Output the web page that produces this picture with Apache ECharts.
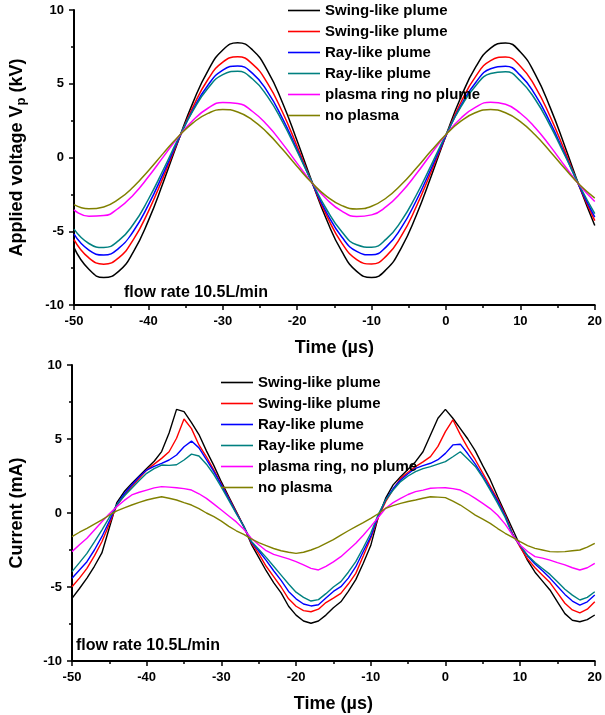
<!DOCTYPE html>
<html>
<head>
<meta charset="utf-8">
<script src="https://cdn.jsdelivr.net/npm/echarts@6/dist/echarts.min.js"></script>
<style>
html,body{margin:0;padding:0;background:#fff;}
#chart{width:605px;height:715px;}
</style>
</head>
<body>
<div id="chart"></div>
<script>
// ---------- data ----------
var legendNamesTop = ['Swing-like plume','Swing-like plume','Ray-like plume','Ray-like plume','plasma ring no plume','no plasma'];
var legendNamesBottom = ['Swing-like plume','Swing-like plume','Ray-like plume','Ray-like plume','plasma ring, no plume','no plasma'];
var flowLabel = 'flow rate 10.5L/min';

// top panel: applied voltage (kV), time step 2 µs
var timeV = [-50,-48,-46,-44,-42,-40,-38,-36,-34,-32,-30,-28,-26,-24,-22,-20,-18,-16,-14,-12,-10,-8,-6,-4,-2,0,2,4,6,8,10,12,14,16,18,20];
var vSwing1 = [-6.11,-7.58,-8.14,-7.72,-6.38,-4.28,-1.68,1.11,3.74,5.88,7.29,7.78,7.29,5.89,3.75,1.12,-1.66,-4.27,-6.37,-7.72,-8.14,-7.58,-6.12,-3.93,-1.29,1.50,4.08,6.14,7.42,7.77,7.15,5.63,3.40,0.73,-2.05,-4.61];
var vSwing2 = [-5.57,-6.81,-7.23,-6.80,-5.55,-3.65,-1.33,1.14,3.43,5.29,6.47,6.83,6.33,5.04,3.10,0.75,-1.71,-3.98,-5.80,-6.92,-7.22,-6.67,-5.32,-3.34,-0.98,1.48,3.73,5.50,6.57,6.81,6.19,4.79,2.78,0.40,-2.05,-4.28];
var vRay1 = [-5.20,-6.28,-6.61,-6.16,-4.98,-3.21,-1.08,1.17,3.24,4.90,5.93,6.21,5.70,4.47,2.67,0.52,-1.72,-3.78,-5.39,-6.37,-6.60,-6.04,-4.76,-2.93,-0.76,1.48,3.51,5.09,6.02,6.18,5.57,4.24,2.38,0.20,-2.03,-4.04];
var vRay2 = [-4.86,-5.83,-6.10,-5.64,-4.51,-2.83,-0.83,1.26,3.18,4.69,5.62,5.84,5.32,4.14,2.44,0.42,-1.67,-3.56,-5.04,-5.92,-6.08,-5.52,-4.30,-2.56,-0.53,1.55,3.43,4.87,5.69,5.81,5.19,3.93,2.16,0.12,-1.95,-3.81];
var vRing = [-3.55,-3.98,-3.94,-3.43,-2.52,-1.31,0.04,1.37,2.52,3.34,3.73,3.66,3.12,2.18,0.96,-0.40,-1.72,-2.85,-3.64,-4.00,-3.89,-3.32,-2.36,-1.12,0.24,1.55,2.66,3.42,3.75,3.61,3.00,2.02,0.77,-0.59,-1.90,-2.98];
var vNone = [-3.20,-3.48,-3.35,-2.83,-1.98,-0.89,0.28,1.41,2.35,2.99,3.25,3.09,2.54,1.67,0.57,-0.61,-1.73,-2.65,-3.26,-3.49,-3.30,-2.73,-1.83,-0.73,0.45,1.56,2.46,3.05,3.25,3.03,2.43,1.52,0.41,-0.77,-1.87,-2.76];

// bottom panel: current (mA), time step 1 µs
var timeI = [-50,-49,-48,-47,-46,-45,-44,-43,-42,-41,-40,-39,-38,-37,-36,-35,-34,-33,-32,-31,-30,-29,-28,-27,-26,-25,-24,-23,-22,-21,-20,-19,-18,-17,-16,-15,-14,-13,-12,-11,-10,-9,-8,-7,-6,-5,-4,-3,-2,-1,0,1,2,3,4,5,6,7,8,9,10,11,12,13,14,15,16,17,18,19,20];
var iSwing1 = [-5.77,-5.1,-4.4,-3.6,-2.7,-1.0,0.7,1.45,2.0,2.5,3.0,3.5,4.15,5.4,7.0,6.85,6.1,5.3,4.2,3.2,2.1,1.1,0.1,-0.9,-2.1,-3.0,-3.9,-4.7,-5.4,-6.3,-6.9,-7.3,-7.45,-7.3,-6.9,-6.4,-6.0,-5.3,-4.5,-3.4,-2.2,-0.3,1.0,1.9,2.45,2.95,3.47,4.14,5.27,6.4,7.0,6.4,5.7,5.0,4.2,3.2,2.25,1.1,0.0,-1.1,-2.2,-3.2,-4.0,-4.6,-5.2,-6.0,-6.8,-7.25,-7.35,-7.2,-6.89];
var iSwing2 = [-4.98,-4.4,-3.74,-2.9,-1.94,-0.75,0.5,1.2,1.78,2.35,2.9,3.3,3.69,4.14,5.05,6.35,5.7,4.6,3.8,2.9,1.95,1.0,0.05,-0.9,-2.0,-2.75,-3.6,-4.3,-5.0,-5.8,-6.3,-6.6,-6.67,-6.5,-6.05,-5.75,-5.43,-4.8,-4.08,-2.9,-1.71,-0.3,0.77,1.6,2.34,2.75,3.13,3.45,3.81,4.5,5.5,6.3,5.3,4.4,3.6,2.7,1.8,0.9,-0.1,-1.4,-2.3,-3.1,-3.7,-4.2,-4.7,-5.4,-6.1,-6.55,-6.75,-6.5,-5.99];
var iRay1 = [-4.41,-3.85,-3.29,-2.5,-1.6,-0.55,0.55,1.3,1.89,2.45,2.9,3.15,3.36,3.58,3.92,4.48,4.86,4.4,3.6,2.8,1.9,0.95,0.0,-0.9,-1.95,-2.55,-3.2,-3.9,-4.55,-5.3,-5.8,-6.15,-6.28,-6.2,-5.75,-5.3,-4.98,-4.4,-3.63,-2.6,-1.6,-0.2,0.88,1.65,2.23,2.65,3.02,3.2,3.36,3.6,4.03,4.6,4.65,4.0,3.3,2.5,1.65,0.8,-0.2,-1.45,-2.2,-2.9,-3.45,-3.9,-4.4,-4.95,-5.5,-5.95,-6.22,-6.0,-5.54];
var iRay2 = [-3.96,-3.35,-2.73,-1.95,-1.15,-0.3,0.55,1.15,1.67,2.2,2.68,3.0,3.24,3.22,3.26,3.58,3.98,3.85,3.3,2.6,1.75,0.85,-0.05,-0.9,-1.9,-2.45,-3.0,-3.6,-4.2,-4.8,-5.35,-5.7,-5.95,-5.85,-5.45,-5.0,-4.64,-4.0,-3.29,-2.35,-1.37,-0.1,0.88,1.55,2.12,2.5,2.79,3.0,3.13,3.3,3.47,3.8,4.14,3.65,3.15,2.4,1.55,0.65,-0.3,-1.5,-2.2,-2.85,-3.35,-3.75,-4.15,-4.65,-5.15,-5.55,-5.88,-5.7,-5.32];
var iRing = [-2.61,-2.15,-1.71,-1.15,-0.59,-0.05,0.43,0.85,1.22,1.4,1.55,1.7,1.78,1.75,1.71,1.65,1.55,1.3,0.99,0.6,0.2,-0.2,-0.6,-1.1,-1.7,-2.15,-2.55,-2.8,-2.95,-3.1,-3.29,-3.5,-3.74,-3.85,-3.6,-3.3,-2.95,-2.5,-2.05,-1.5,-0.92,-0.3,0.32,0.7,0.99,1.25,1.44,1.55,1.67,1.7,1.71,1.65,1.55,1.3,0.99,0.65,0.3,-0.15,-0.75,-1.5,-2.16,-2.6,-2.95,-3.05,-3.18,-3.35,-3.51,-3.7,-3.85,-3.7,-3.4];
var iNone = [-1.6,-1.3,-1.04,-0.75,-0.47,-0.15,0.14,0.35,0.54,0.72,0.88,1.0,1.1,1.0,0.88,0.7,0.54,0.3,0.0,-0.25,-0.55,-0.9,-1.2,-1.45,-1.75,-2.0,-2.2,-2.4,-2.55,-2.65,-2.73,-2.65,-2.5,-2.3,-2.05,-1.8,-1.49,-1.2,-0.92,-0.65,-0.36,-0.05,0.32,0.5,0.65,0.78,0.88,1.0,1.1,1.07,1.04,0.8,0.54,0.2,-0.14,-0.42,-0.7,-1.05,-1.37,-1.65,-1.94,-2.2,-2.39,-2.5,-2.61,-2.63,-2.61,-2.55,-2.5,-2.3,-2.05];

var xTicks = {min: -50, max: 20, interval: 10};
var yTicks = {min: -10, max: 10, interval: 5};

// ---------- chart ----------
var colors = ['#000000','#ff0000','#0000ff','#008080','#ff00ff','#808000'];
var FONT = 'Arial, "Liberation Sans", Helvetica, sans-serif';
function pairs(xs, ys){ return xs.map(function(x,i){ return [x, ys[i]]; }); }

var topSets = [vSwing1, vSwing2, vRay1, vRay2, vRing, vNone];
var botSets = [iSwing1, iSwing2, iRay1, iRay2, iRing, iNone];

var series = [];
topSets.forEach(function(d, k){
  series.push({type:'line', name:'v'+k, xAxisIndex:0, yAxisIndex:0, data:pairs(timeV,d), smooth:true,
    symbol:'none', lineStyle:{color:colors[k], width:1.5}, itemStyle:{color:colors[k]}});
});
botSets.forEach(function(d, k){
  series.push({type:'line', name:'i'+k, xAxisIndex:1, yAxisIndex:1, data:pairs(timeI,d),
    symbol:'none', lineStyle:{color:colors[k], width:1.4}, itemStyle:{color:colors[k]}});
});

function xAxisCfg(gi){
  return {type:'value', gridIndex:gi, min:xTicks.min, max:xTicks.max, interval:xTicks.interval,
    name:'Time (\u00b5s)', nameLocation:'middle', nameGap:34,
    nameTextStyle:{fontFamily:FONT, fontWeight:'bold', fontSize:18, color:'#000'},
    axisLine:{show:true, onZero:false, lineStyle:{color:'#000', width:2}},
    axisTick:{show:true, inside:false, length:5, lineStyle:{color:'#000', width:1.5}},
    minorTick:{show:true, splitNumber:2, length:3, lineStyle:{color:'#000', width:1.5}},
    splitLine:{show:false},
    axisLabel:{fontFamily:FONT, fontWeight:'bold', fontSize:13, color:'#000', margin:10}};
}
function yAxisCfg(gi, name){
  return {type:'value', gridIndex:gi, min:yTicks.min, max:yTicks.max, interval:yTicks.interval,
    name:name, nameLocation:'middle', nameGap:46,
    nameTextStyle:{fontFamily:FONT, fontWeight:'bold', fontSize:18, color:'#000',
      rich:{sub:{fontFamily:FONT, fontWeight:'bold', fontSize:13, color:'#000', padding:[9,0,0,0]}}},
    axisLine:{show:true, onZero:false, lineStyle:{color:'#000', width:2}},
    axisTick:{show:true, inside:false, length:5, lineStyle:{color:'#000', width:1.5}},
    minorTick:{show:true, splitNumber:2, length:3, lineStyle:{color:'#000', width:1.5}},
    splitLine:{show:false},
    axisLabel:{fontFamily:FONT, fontWeight:'bold', fontSize:13, color:'#000', margin:10}};
}

function legendCfg(left, top, prefix, names){
  return {orient:'vertical', left:left, top:top, padding:0, itemGap:6, itemWidth:32, itemHeight:1.6,
    icon:'rect',
    data:names.map(function(_,k){ return {name:prefix+k, icon:'rect', itemStyle:{color:colors[k]}}; }),
    formatter:function(n){ return names[+n.slice(1)]; },
    textStyle:{fontFamily:FONT, fontWeight:'bold', fontSize:15, color:'#000', lineHeight:15},
    selectedMode:false};
}

var option = {
  animation:false,
  backgroundColor:'#ffffff',
  grid:[
    {left:71, top:10, width:524, height:295},
    {left:71, top:365, width:524, height:296}
  ],
  xAxis:[xAxisCfg(0), xAxisCfg(1)],
  yAxis:[yAxisCfg(0,'Applied voltage V{sub|p} (kV)'), yAxisCfg(1,'Current (mA)')],
  legend:[legendCfg(288, 3, 'v', legendNamesTop), legendCfg(221, 375, 'i', legendNamesBottom)],
  graphic:[
    {type:'text', left:124, top:285, style:{text:flowLabel, font:'bold 16px '+FONT, fill:'#000'}},
    {type:'text', left:76, top:638, style:{text:flowLabel, font:'bold 16px '+FONT, fill:'#000'}}
  ],
  series:series
};

var chart = echarts.init(document.getElementById('chart'), null, {renderer:'canvas'});
chart.setOption(option);
</script>
</body>
</html>
